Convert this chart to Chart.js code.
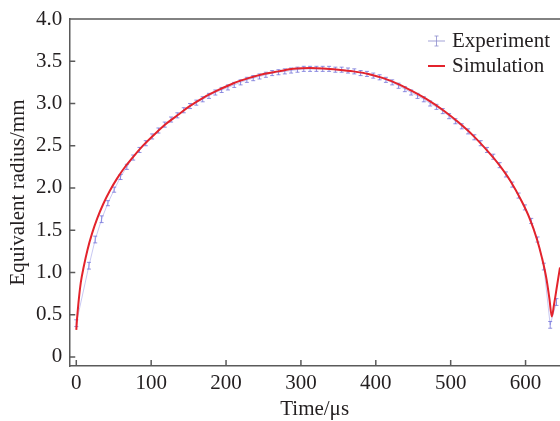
<!DOCTYPE html>
<html>
<head>
<meta charset="utf-8">
<script src="https://cdn.jsdelivr.net/npm/chart.js@4/dist/chart.umd.min.js"></script>
<style>
html, body { margin: 0; padding: 0; background: #fff; }
#wrap { width: 560px; height: 421px; }
</style>
</head>
<body>
<div id="wrap"><canvas id="chart_radius"></canvas></div>
<script>
var xTicks = [0, 100, 200, 300, 400, 500, 600];
var yTicks = [0, 0.5, 1.0, 1.5, 2.0, 2.5, 3.0, 3.5, 4.0];

var simTime = [0, 1, 3, 6, 10, 15, 21, 28, 36, 45, 55, 66, 78, 90, 105, 120, 135, 150, 170, 190, 210, 230, 250, 270, 290, 312,
    330, 350, 370, 390, 410, 430, 450, 470, 490, 510, 530, 550, 565, 580, 595, 605, 615, 622, 628, 632, 635, 638, 642, 646];
var simRadius = [0.32, 0.45, 0.65, 0.88, 1.07, 1.27, 1.46, 1.64, 1.81, 1.97, 2.12, 2.26, 2.39, 2.51, 2.64, 2.76, 2.86, 2.96, 3.07, 3.16, 3.24, 3.30, 3.35, 3.38, 3.41, 3.42,
    3.415, 3.40, 3.38, 3.35, 3.30, 3.23, 3.14, 3.04, 2.92, 2.78, 2.62, 2.43, 2.27, 2.08, 1.84, 1.65, 1.40, 1.17, 0.92, 0.68, 0.48, 0.62, 0.84, 1.06];

var expTime = [0, 16.9, 25.3, 33.8, 42.2, 50.6, 59.1, 67.5, 76.0, 84.4, 92.8, 101.3, 109.7, 118.1, 126.6, 135.0,
    143.5, 151.9, 160.3, 168.8, 177.2, 185.7, 194.1, 202.5, 211.0, 219.4, 227.8, 236.3, 244.7, 253.2, 261.6,
    270.0, 278.5, 286.9, 295.4, 303.8, 312.2, 320.7, 329.1, 337.6, 346.0, 354.4, 362.9, 371.3, 379.7, 388.2,
    396.6, 405.1, 413.5, 421.9, 430.4, 438.8, 447.2, 455.7, 464.1, 472.6, 481.0, 489.4, 497.9, 506.3, 514.8,
    523.2, 531.6, 540.1, 548.5, 556.9, 565.4, 573.8, 582.3, 590.7, 599.1, 607.6, 616.0, 624.4, 632.9, 641.3];
var expRadius = [0.40, 1.08, 1.39, 1.63, 1.82, 1.98, 2.13, 2.25, 2.36, 2.45, 2.53, 2.61, 2.68, 2.75, 2.81, 2.86,
    2.92, 2.97, 3.01, 3.05, 3.09, 3.13, 3.16, 3.19, 3.22, 3.25, 3.28, 3.30, 3.32, 3.34, 3.36,
    3.37, 3.38, 3.39, 3.40, 3.41, 3.41, 3.41, 3.41, 3.41, 3.40, 3.40, 3.39, 3.38, 3.36, 3.35,
    3.33, 3.31, 3.28, 3.25, 3.21, 3.17, 3.13, 3.09, 3.05, 3.00, 2.96, 2.91, 2.85, 2.79, 2.73,
    2.67, 2.60, 2.53, 2.45, 2.37, 2.27, 2.16, 2.04, 1.91, 1.77, 1.61, 1.39, 1.07, 0.38, 0.65];
var expError = [0.04, 0.04, 0.04, 0.04, 0.03, 0.03, 0.03, 0.03, 0.03, 0.03, 0.03, 0.03, 0.03, 0.03, 0.03, 0.03,
    0.03, 0.03, 0.03, 0.03, 0.03, 0.03, 0.03, 0.03, 0.03, 0.03, 0.03, 0.03, 0.03, 0.03, 0.03,
    0.03, 0.03, 0.03, 0.03, 0.03, 0.03, 0.03, 0.03, 0.03, 0.03, 0.03, 0.03, 0.03, 0.03, 0.03,
    0.03, 0.03, 0.03, 0.03, 0.03, 0.03, 0.03, 0.03, 0.03, 0.03, 0.03, 0.03, 0.03, 0.03, 0.03,
    0.03, 0.03, 0.03, 0.03, 0.03, 0.03, 0.03, 0.03, 0.03, 0.03, 0.03, 0.03, 0.04, 0.04, 0.04];

var FONT = { family: "'Liberation Serif', 'Times New Roman', serif", size: 21, lineHeight: 1.0 };
var TEXT = '#231f20';
var AXIS = '#5a5a5a';
var EXP_COLOR = 'rgba(110, 110, 215, 0.85)';
var SIM_COLOR = '#e3232c';

function pts(xs, ys) {
    return xs.map(function (x, i) { return { x: x, y: ys[i] }; });
}

var chart_radius = new Chart(document.getElementById('chart_radius'), {
    type: 'line',
    data: {
        datasets: [
            {
                label: 'Simulation',
                data: pts(simTime, simRadius),
                borderColor: SIM_COLOR,
                borderWidth: 2,
                pointRadius: 0,
                cubicInterpolationMode: 'monotone',
                order: 0
            },
            {
                label: 'Experiment',
                data: pts(expTime, expRadius),
                borderColor: 'rgba(110, 110, 220, 0.55)',
                borderWidth: 0.7,
                pointRadius: 0,
                order: 1
            }
        ]
    },
    options: {
        animation: false,
        responsive: true,
        maintainAspectRatio: false,
        layout: { padding: { top: 19, right: 0, left: 0, bottom: 1 } },
        plugins: {
            legend: { display: false },
            tooltip: { enabled: false }
        },
        scales: {
            x: {
                type: 'linear',
                min: -9.4,
                max: 646,
                afterBuildTicks: function (scale) {
                    scale.ticks = xTicks.map(function (v) { return { value: v }; });
                },
                grid: { display: false, drawTicks: false },
                border: { display: true, color: AXIS, width: 1.5 },
                ticks: { font: FONT, color: TEXT, padding: 7, maxRotation: 0, autoSkip: false },
                title: { display: true, text: 'Time/μs', font: FONT, color: TEXT, padding: { top: -2, bottom: 0 } }
            },
            y: {
                type: 'linear',
                min: -0.107,
                max: 4.0,
                afterBuildTicks: function (scale) {
                    scale.ticks = yTicks.map(function (v) { return { value: v }; });
                },
                grid: { display: false, drawTicks: false },
                border: { display: true, color: AXIS, width: 1.5 },
                ticks: {
                    font: FONT, color: TEXT, padding: 7, autoSkip: false,
                    callback: function (v) { return v === 0 ? '0' : v.toFixed(1); }
                },
                title: { display: true, text: 'Equivalent radius/mm', font: FONT, color: TEXT, padding: { top: 8, bottom: 0 } }
            }
        }
    },
    plugins: [{
        id: 'frameAndErrors',
        beforeDatasetsDraw: function (chart) {
            var ctx = chart.ctx, a = chart.chartArea;
            var xs = chart.scales.x, ys = chart.scales.y;
            ctx.save();
            ctx.beginPath();
            ctx.rect(a.left, a.top, a.right - a.left, a.bottom - a.top);
            ctx.clip();
            ctx.strokeStyle = EXP_COLOR;
            ctx.lineWidth = 0.9;
            expTime.forEach(function (t, i) {
                var px = xs.getPixelForValue(t);
                var y1 = ys.getPixelForValue(expRadius[i] - expError[i]);
                var y2 = ys.getPixelForValue(expRadius[i] + expError[i]);
                ctx.beginPath();
                ctx.moveTo(px, y1); ctx.lineTo(px, y2);
                ctx.moveTo(px - 2, y1); ctx.lineTo(px + 2, y1);
                ctx.moveTo(px - 2, y2); ctx.lineTo(px + 2, y2);
                ctx.stroke();
            });
            ctx.restore();
        },
        afterDraw: function (chart) {
            var ctx = chart.ctx, a = chart.chartArea;
            var xs = chart.scales.x, ys = chart.scales.y;
            ctx.save();
            ctx.strokeStyle = AXIS;
            ctx.lineWidth = 1.5;
            ctx.beginPath();
            ctx.moveTo(a.left, a.top); ctx.lineTo(a.right, a.top);
            xTicks.forEach(function (v) {
                var px = xs.getPixelForValue(v);
                ctx.moveTo(px, a.bottom); ctx.lineTo(px, a.bottom - 6);
            });
            yTicks.forEach(function (v) {
                var py = ys.getPixelForValue(v);
                ctx.moveTo(a.left, py); ctx.lineTo(a.left + 6, py);
            });
            ctx.stroke();

            // legend, top right inside the plot
            var lx = a.right - 132, ly = a.top + 22;
            ctx.font = FONT.size + 'px ' + FONT.family;
            ctx.fillStyle = TEXT;
            ctx.textBaseline = 'middle';
            ctx.fillText(chart.data.datasets[1].label, lx + 24, ly);
            ctx.fillText(chart.data.datasets[0].label, lx + 24, ly + 25);
            ctx.strokeStyle = 'rgba(140, 140, 205, 0.8)';
            ctx.lineWidth = 1;
            ctx.beginPath();
            ctx.moveTo(lx, ly); ctx.lineTo(lx + 17, ly);
            ctx.moveTo(lx + 8.5, ly - 5); ctx.lineTo(lx + 8.5, ly + 5);
            ctx.moveTo(lx + 6.5, ly - 5); ctx.lineTo(lx + 10.5, ly - 5);
            ctx.moveTo(lx + 6.5, ly + 5); ctx.lineTo(lx + 10.5, ly + 5);
            ctx.stroke();
            ctx.strokeStyle = SIM_COLOR;
            ctx.lineWidth = 2;
            ctx.beginPath();
            ctx.moveTo(lx, ly + 25); ctx.lineTo(lx + 17, ly + 25);
            ctx.stroke();
            ctx.restore();
        }
    }]
});
</script>
</body>
</html>
